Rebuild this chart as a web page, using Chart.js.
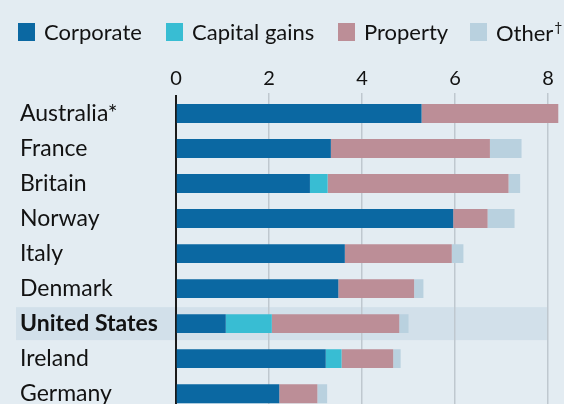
<!DOCTYPE html>
<html>
<head>
<meta charset="utf-8">
<script src="https://cdn.jsdelivr.net/npm/chart.js@4"></script>
<style>
  html, body { margin: 0; padding: 0; background: #e3ecf2; overflow: hidden; }
  #wrap { position: relative; width: 564px; height: 404px; overflow: hidden; }
  #legend { position: absolute; left: 0; top: 0; width: 564px; height: 50px; font-family: Lato, sans-serif; font-size: 22px; color: #121212; z-index: 2; }
  .item { position: absolute; top: 18px; display: flex; align-items: center; white-space: nowrap; }
  .sw { width: 17px; height: 18px; margin-right: 9px; }
  sup { font-size: 14px; vertical-align: 9px; margin-left: 1px; }
  canvas { position: absolute; left: 0; top: 0; }
</style>
</head>
<body>
<div id="wrap">
  <div id="legend"></div>
  <canvas id="c" width="564" height="428"></canvas>
</div>
<script>
const countries = ["Australia*", "France", "Britain", "Norway", "Italy", "Denmark", "United States", "Ireland", "Germany"];
const corporate    = [5.28, 3.33, 2.88, 5.96, 3.63, 3.49, 1.07, 3.22, 2.22];
const capitalGains = [0,    0,    0.38, 0,    0,    0,    0.99, 0.34, 0];
const property     = [2.94, 3.42, 3.89, 0.74, 2.30, 1.63, 2.74, 1.11, 0.82];
const other        = [0,    0.68, 0.25, 0.58, 0.25, 0.20, 0.20, 0.16, 0.21];
const seriesNames  = ["Corporate", "Capital gains", "Property", "Other"];
const seriesColors = ["#0b68a2", "#38bdd3", "#bc8e97", "#b9d1df"];
const tickVals     = [0, 2, 4, 6, 8];
const highlight    = "United States";

// legend item left edges (layout only)
const legendLeft = [18, 166, 338, 470];

const leg = document.getElementById("legend");
seriesNames.forEach((n, i) => {
  let d = document.createElement("div");
  d.className = "item";
  d.style.left = legendLeft[i] + "px";
  d.innerHTML = `<span class="sw" style="background:${seriesColors[i]}"></span><span>${n}${n === "Other" ? "<sup>†</sup>" : ""}</span>`;
  leg.appendChild(d);
});

const band = {
  id: "band",
  beforeDraw(chart) {
    const {ctx, scales: {x, y}} = chart;
    const yc = y.getPixelForValue(countries.indexOf(highlight));
    ctx.save();
    ctx.fillStyle = "#d2e0ea";
    ctx.fillRect(16, yc - 16.5, x.getPixelForValue(8) - 16, 33);
    ctx.restore();
  }
};

new Chart(document.getElementById("c"), {
  type: "bar",
  data: {
    labels: countries,
    datasets: [corporate, capitalGains, property, other].map((d, i) => ({
      label: seriesNames[i],
      data: d,
      backgroundColor: seriesColors[i],
      categoryPercentage: 1,
      barPercentage: 0.54
    }))
  },
  plugins: [band],
  options: {
    indexAxis: "y",
    responsive: false,
    animation: false,
    layout: { padding: { left: 20, right: 2, top: 65, bottom: 0 } },
    plugins: { legend: { display: false }, tooltip: { enabled: false } },
    scales: {
      x: {
        position: "top",
        stacked: true,
        min: 0,
        max: 8.3,
        afterBuildTicks: s => { s.ticks = tickVals.map(v => ({ value: v })); },
        border: { display: false },
        grid: {
          tickLength: 3,
          color: c => c.tick && c.tick.value === 0 ? "rgba(0,0,0,0)" : "#bfc8cf",
          lineWidth: 1.5
        },
        ticks: { padding: 2, color: "#121212", font: { family: "Lato", size: 20 } }
      },
      y: {
        stacked: true,
        afterFit: s => { s.width = 156; },
        border: { display: true, color: "#1a1a1a", width: 2 },
        grid: { display: false },
        ticks: {
          crossAlign: "far",
          color: "#121212",
          font: c => ({ family: "Lato", size: 23, weight: countries[c.index] === highlight ? "bold" : "normal" })
        }
      }
    }
  }
});
</script>
</body>
</html>
